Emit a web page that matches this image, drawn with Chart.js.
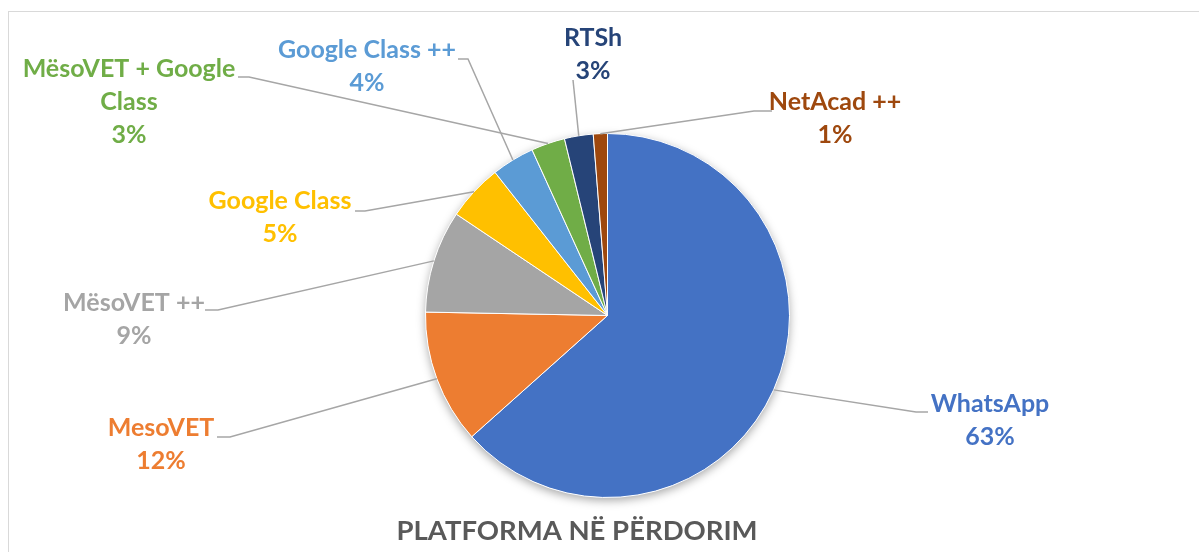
<!DOCTYPE html>
<html lang="sq">
<head>
<meta charset="UTF-8">
<title>Platforma në përdorim</title>
<script src="https://cdn.jsdelivr.net/npm/chart.js"></script>
<style>
  html, body { margin: 0; padding: 0; background: #fff; }
</style>
</head>
<body>
<canvas id="platformChart" width="1199" height="552"></canvas>
<script>
    // data (shares in %)
    const categories = ['WhatsApp', 'MesoVET', 'MësoVET ++', 'Google Class', 'Google Class ++', 'MësoVET + Google Class', 'RTSh', 'NetAcad ++'];
    const shares = [63.4, 11.9, 9.1, 5.0, 3.8, 3.0, 2.55, 1.25];
    const sliceColors = ['#4472C4', '#ED7D31', '#A5A5A5', '#FFC000', '#5B9BD5', '#70AD47', '#264478', '#9E480E'];
    const chartTitle = 'PLATFORMA NË PËRDORIM';

    // label placement: text centre x, first baseline y, leader start and knee
    const labelSpots = [
        { x: 990, y: 412, from: [928, 412], knee: [916, 412] },
        { x: 161, y: 436, from: [217, 437], knee: [230, 437] },
        { x: 134, y: 311, from: [205, 310], knee: [218, 310] },
        { x: 280, y: 209, from: [355, 211], knee: [365, 211] },
        { x: 367, y: 58, from: [458, 59], knee: [468, 59] },
        { x: 129, y: 77, from: [238, 77], knee: [249, 77] },
        { x: 593, y: 46, from: [573, 80], knee: null },
        { x: 835, y: 110, from: [772, 111], knee: [754, 111] }
    ];

    const labelFont = 'bold 25px Lato, "Open Sans", sans-serif';
    const titleFont = 'bold 27.5px Lato, "Open Sans", sans-serif';
    const lineGap = 33;

    function wrapText(ctx, text, maxWidth) {
        const words = text.split(' ');
        const lines = [];
        let cur = '';
        words.forEach(w => {
            const test = cur ? cur + ' ' + w : w;
            if (ctx.measureText(test).width > maxWidth && cur) {
                lines.push(cur);
                cur = w;
            } else {
                cur = test;
            }
        });
        lines.push(cur);
        return lines;
    }

    const calloutPlugin = {
        id: 'callouts',
        beforeDraw(chart) {
            const ctx = chart.ctx;
            ctx.save();
            ctx.strokeStyle = '#D9D9D9';
            ctx.lineWidth = 1;
            ctx.strokeRect(8.5, 11.5, 1400, 800);
            ctx.restore();
        },
        beforeDatasetsDraw(chart) {
            // soft shadow under the whole pie
            const arc = chart.getDatasetMeta(0).data[0];
            const ctx = chart.ctx;
            ctx.save();
            ctx.shadowColor = 'rgba(0,0,0,0.35)';
            ctx.shadowBlur = 10;
            ctx.shadowOffsetY = 3;
            ctx.beginPath();
            ctx.arc(arc.x, arc.y, arc.outerRadius, 0, Math.PI * 2);
            ctx.fillStyle = '#fff';
            ctx.fill();
            ctx.restore();
        },
        afterDatasetsDraw(chart) {
            const ctx = chart.ctx;
            const meta = chart.getDatasetMeta(0);
            const total = shares.reduce((a, b) => a + b, 0);

            ctx.save();
            // leader lines
            ctx.strokeStyle = '#A6A6A6';
            ctx.lineWidth = 1.5;
            meta.data.forEach((arc, i) => {
                const spot = labelSpots[i];
                const mid = (arc.startAngle + arc.endAngle) / 2;
                const ex = arc.x + Math.cos(mid) * arc.outerRadius;
                const ey = arc.y + Math.sin(mid) * arc.outerRadius;
                ctx.beginPath();
                ctx.moveTo(spot.from[0], spot.from[1]);
                if (spot.knee) ctx.lineTo(spot.knee[0], spot.knee[1]);
                ctx.lineTo(ex, ey);
                ctx.stroke();
            });

            // data labels
            ctx.font = labelFont;
            ctx.textAlign = 'center';
            ctx.textBaseline = 'alphabetic';
            categories.forEach((name, i) => {
                const spot = labelSpots[i];
                const lines = wrapText(ctx, name, 235);
                lines.push(Math.round(shares[i] / total * 100) + '%');
                ctx.fillStyle = sliceColors[i];
                lines.forEach((t, k) => ctx.fillText(t, spot.x, spot.y + k * lineGap));
            });

            // title at the bottom
            ctx.font = titleFont;
            ctx.fillStyle = '#595959';
            ctx.fillText(chartTitle, 577, 540);
            ctx.restore();
        }
    };

    const ctx = document.getElementById('platformChart').getContext('2d');
    const platformChart = new Chart(ctx, {
        type: 'pie',
        data: {
            labels: categories,
            datasets: [{
                data: shares,
                backgroundColor: sliceColors,
                borderColor: '#FFFFFF',
                borderWidth: 1,
                hoverOffset: 0
            }]
        },
        options: {
            responsive: false,
            animation: false,
            layout: {
                padding: { left: 425, right: 409, top: 133, bottom: 54 }
            },
            plugins: {
                legend: { display: false },
                tooltip: { enabled: false }
            }
        },
        plugins: [calloutPlugin]
    });
</script>
</body>
</html>
